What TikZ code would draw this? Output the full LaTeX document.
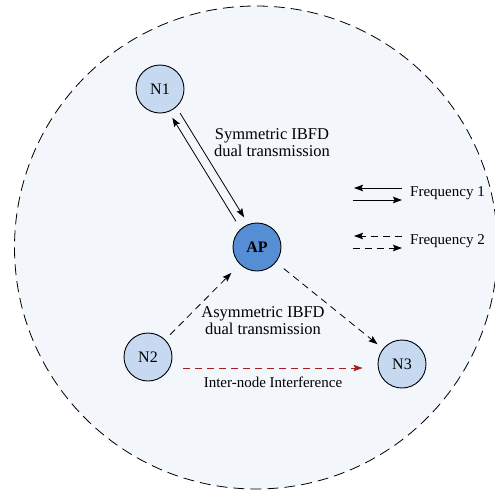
\documentclass[tikz,border=0pt]{standalone}
\usepackage{fontspec}
\setmainfont{Liberation Serif}
\usetikzlibrary{arrows.meta,calc}
\definecolor{bgfill}{RGB}{243,246,250}
\definecolor{nodefill}{RGB}{198,217,241}
\definecolor{apfill}{RGB}{85,142,213}
\definecolor{intred}{RGB}{165,30,30}
\tikzset{
  station/.style={circle,draw=black,line width=0.9pt,fill=nodefill,minimum size=48pt,inner sep=0pt,font=\fontsize{16}{16}\selectfont},
  apnode/.style={station,fill=apfill,font=\fontsize{16}{16}\selectfont\bfseries},
  link/.style={line width=0.8pt,-{Stealth[length=9pt,width=6.5pt,inset=1.5pt]}},
  dlink/.style={link,dash pattern=on 7pt off 5pt},
  lbl/.style={align=center,font=\fontsize{16.5}{17}\selectfont,inner sep=0pt},
  smalllbl/.style={font=\fontsize{15}{15}\selectfont,inner sep=0pt},
}
\begin{document}
\begin{tikzpicture}[x=1pt,y=-1pt]
\useasboundingbox (0,0) rectangle (495,491);
\draw[fill=bgfill,line width=0.8pt,dash pattern=on 11pt off 6pt] (256,247.5) circle (241.5);
\node[station] (N1) at (160,89) {N1};
\node[apnode] (AP) at (257,247) {AP};
\node[station] (N2) at (148,357) {N2};
\node[station] (N3) at (402,364) {N3};
% symmetric pair
\draw[link,shorten <=33pt,shorten >=31pt] ($(AP)!4.5pt!90:(N1)$) -- ($(N1)!4.5pt!-90:(AP)$);
\draw[link,shorten <=31pt,shorten >=32pt] ($(N1)!4.5pt!90:(AP)$) -- ($(AP)!4.5pt!-90:(N1)$);
% asymmetric
\draw[dlink,shorten <=7pt,shorten >=12pt] (N2) -- (AP);
\draw[dlink,shorten <=10pt,shorten >=7pt] (AP) -- (N3);
% interference
\draw[dlink,draw=intred,-{Stealth[length=9pt,width=6.5pt,inset=1.5pt,fill=intred]}] ($(N2.east)+(11,11)$) -- ($(N3.west)+(-15,4)$);
% labels
\node[lbl] (sym) at (272,143) {Symmetric IBFD\\dual transmission};
\node[lbl] (asym) at (263,321) {Asymmetric IBFD\\dual transmission};
\node[smalllbl] (inter) at (273,382) {Inter-node Interference};
% legend
\coordinate (f1a) at (402,188); \coordinate (f1b) at (354,188);
\coordinate (f1c) at (353,200); \coordinate (f1d) at (402,200);
\draw[link] (f1a) -- (f1b);
\draw[link] (f1c) -- (f1d);
\node[smalllbl,anchor=west] (freq1) at (410,193) {Frequency 1};
\coordinate (f2a) at (402,236); \coordinate (f2b) at (354,236);
\coordinate (f2c) at (353,248); \coordinate (f2d) at (402,248);
\draw[dlink] (f2a) -- (f2b);
\draw[dlink] (f2c) -- (f2d);
\node[smalllbl,anchor=west] (freq2) at (410,241) {Frequency 2};
\end{tikzpicture}
\end{document}
